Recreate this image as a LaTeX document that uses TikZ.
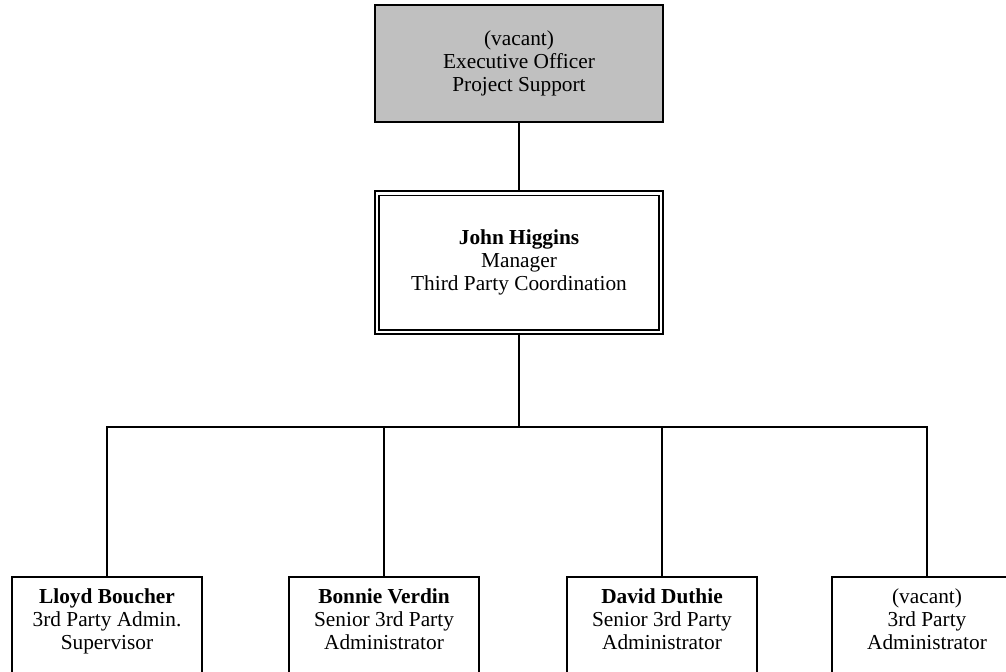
\documentclass[tikz,border=0pt]{standalone}
\usepackage{fontspec}
\setmainfont{Liberation Serif}
\usetikzlibrary{positioning}
\definecolor{ocGray}{HTML}{C0C0C0}
\tikzset{
  ocnode/.style={
    draw, line width=1.4pt, align=center, inner sep=0pt,
    font=\fontsize{16}{17}\selectfont
  },
  vacantbox/.style={ocnode, fill=ocGray, minimum width=216pt, minimum height=87.6pt},
  mgrbox/.style={ocnode, double, line width=1.1pt, double distance=2pt,
    minimum width=213pt, minimum height=104pt},
  staffbox/.style={ocnode, anchor=north, minimum width=142.6pt, inner ysep=9pt, text depth=80pt},
  orgline/.style={line width=1.4pt}
}

\begin{document}
\begin{tikzpicture}[x=0.75pt, y=-0.75pt]
  \useasboundingbox (0,0) rectangle (1006,671);
  \clip (0,0) rectangle (1006,671);
  % top and manager
  \node[vacantbox] (eo) at (519,63.5) {(vacant)\\Executive Officer\\Project Support};
  \node[mgrbox] (jh) at (519,262.5) {\textbf{John Higgins}\\Manager\\Third Party Coordination};
  \coordinate (bus) at (519,427);
  % staff row
  \node[staffbox] (lb) at (107,576) {\textbf{Lloyd Boucher}\\3rd Party Admin.\\Supervisor};
  \node[staffbox] (bv) at (384,576) {\textbf{Bonnie Verdin}\\Senior 3rd Party\\Administrator};
  \node[staffbox] (dd) at (662,576) {\textbf{David Duthie}\\Senior 3rd Party\\Administrator};
  \node[staffbox] (va) at (927,576) {(vacant)\\3rd Party\\Administrator};
  % connectors
  \draw[orgline] (eo) -- (jh);
  \draw[orgline] (jh) -- (bus);
  \foreach \s in {lb,bv,dd,va}
    \draw[orgline] (bus) -| (\s.north);
\end{tikzpicture}
\end{document}
